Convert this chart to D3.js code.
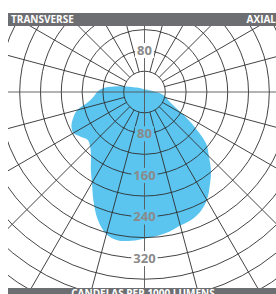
<!DOCTYPE html>
<html>
<head>
<meta charset="utf-8">
<script src="https://cdn.jsdelivr.net/npm/d3@7"></script>
<style>
  html, body { margin: 0; padding: 0; background: #fff; }
  svg { display: block; }
  text { font-family: 'Open Sans', sans-serif; font-weight: 700; }
</style>
</head>
<body>
<svg width="276" height="294"></svg>
<script>
// photometric distribution, angle 0 = nadir, + toward AXIAL side
const angles = [-170, -160, -150, -140, -130, -120, -110,
    -105, -100, -95, -90, -85, -80, -75, -70, -65, -60, -55, -50, -45, -40, -35, -30, -25, -20, -15, -10, -5,
    0, 5, 10, 15, 20, 25, 30, 35, 40, 45, 50, 55, 60, 65, 70, 75, 80, 85, 90, 95, 100,
    110, 120, 130, 140, 150, 160, 170, 180]
const candelas = [5, 6, 7, 9, 12, 17, 30,
    43, 60, 80, 91, 98, 110, 134, 146, 155, 158, 150, 143, 148, 160, 180, 202, 232, 262, 283, 290, 287,
    282, 278, 273, 266, 262, 254, 240, 219, 199, 175, 155, 118, 85, 62, 50, 44, 38, 30, 22, 17, 14,
    10, 8, 7, 6, 5, 5, 5, 5]

const ringValues = [40, 80, 120, 160, 200, 240, 280, 320, 360, 400, 440, 480, 520]
const spokeAngles = d3.range(0, 360, 15)
const bottomLabels = [80, 160, 240, 320]
const topLabels = [80]
const titleLeft = 'TRANSVERSE',
    titleRight = 'AXIAL',
    footer = 'CANDELAS PER 1000 LUMENS'

const svg = d3.select('svg')
const width = +svg.attr('width'),
    height = +svg.attr('height'),
    cx = 144.5,
    cy = 92,
    plot = { left: 8, top: 26, right: 276, bottom: 288 }

const r = d3.scaleLinear().domain([0, 40]).range([0, 20.8])
const toRad = a => (180 - a) * Math.PI / 180

const defs = svg.append('defs')
defs.append('clipPath').attr('id', 'plotClip')
    .append('rect')
    .attr('x', plot.left).attr('y', plot.top)
    .attr('width', plot.right - plot.left).attr('height', plot.bottom - plot.top)

// mask lives in the chart's local (centered) coordinates
const mask = defs.append('mask').attr('id', 'knock')
    .attr('maskUnits', 'userSpaceOnUse')
    .attr('x', -cx).attr('y', -cy).attr('width', width).attr('height', height)
mask.append('rect')
    .attr('x', -cx).attr('y', -cy)
    .attr('width', width).attr('height', height)
    .attr('fill', '#fff')

const chart = svg.append('g')
    .attr('clip-path', 'url(#plotClip)')
    .append('g')
    .attr('transform', `translate(${cx},${cy})`)

//distribution fill
const data = angles.map((a, i) => ({ a, v: candelas[i] }))
const area = d3.lineRadial()
    .angle(d => toRad(d.a))
    .radius(d => r(d.v))
    .curve(d3.curveCatmullRomClosed.alpha(0.5))

chart.append('path')
    .datum(data)
    .attr('d', area)
    .attr('fill', '#5bc5f0')

//grid
const grid = chart.append('g')
    .attr('mask', 'url(#knock)')
    .attr('fill', 'none')
    .attr('stroke', '#2f2f2f')
    .attr('stroke-width', 0.9)

grid.selectAll('.ring')
    .data(ringValues)
    .enter().append('circle')
    .attr('class', 'ring')
    .attr('r', d => r(d))

grid.selectAll('.spoke')
    .data(spokeAngles)
    .enter().append('line')
    .attr('class', 'spoke')
    .attr('x1', d => (d % 90 === 0 ? 0 : r(40)) * Math.sin(toRad(d)))
    .attr('y1', d => -(d % 90 === 0 ? 0 : r(40)) * Math.cos(toRad(d)))
    .attr('x2', d => r(560) * Math.sin(toRad(d)))
    .attr('y2', d => -r(560) * Math.cos(toRad(d)))
    .attr('stroke', d => d % 90 === 0 ? '#555' : null)

//ring labels
const labels = chart.append('g')
    .attr('fill', '#8a8a8a')
    .attr('font-size', 13)
    .attr('text-anchor', 'middle')

const labelData = bottomLabels.map(v => ({ v, y: r(v) }))
    .concat(topLabels.map(v => ({ v, y: -r(v) })))

labels.selectAll('text')
    .data(labelData)
    .enter().append('text')
    .attr('x', 0)
    .attr('y', d => d.y)
    .attr('dy', '0.36em')
    .text(d => d.v)
    .each(function () {
        const b = this.getBBox()
        mask.append('rect')
            .attr('x', b.x - 2)
            .attr('y', b.y + 2)
            .attr('width', b.width + 4)
            .attr('height', b.height - 3)
            .attr('fill', '#000')
    })

//header bar
svg.append('rect')
    .attr('x', plot.left).attr('y', 13)
    .attr('width', plot.right - plot.left).attr('height', 13)
    .attr('fill', '#6d6e71')
svg.append('text')
    .text(titleLeft)
    .attr('x', 11).attr('y', 23)
    .attr('fill', '#fff').attr('font-size', 10)
svg.append('text')
    .text(titleRight)
    .attr('x', 276).attr('y', 23)
    .attr('text-anchor', 'end')
    .attr('fill', '#fff').attr('font-size', 10)

//footer bar
svg.append('rect')
    .attr('x', plot.left).attr('y', plot.bottom)
    .attr('width', plot.right - plot.left).attr('height', 14)
    .attr('fill', '#6d6e71')
svg.append('text')
    .text(footer)
    .attr('x', 143).attr('y', 297)
    .attr('text-anchor', 'middle')
    .attr('fill', '#fff').attr('font-size', 10)
</script>
</body>
</html>
